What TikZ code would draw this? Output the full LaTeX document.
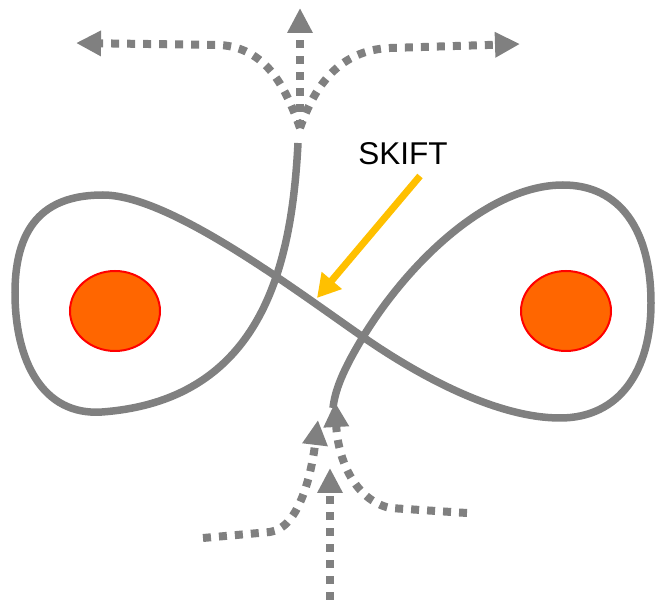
\documentclass[tikz,border=0pt]{standalone}
\usepackage{fontspec}
\setmainfont{Liberation Sans}
\usetikzlibrary{arrows.meta, shapes.geometric}

\definecolor{orbitgray}{HTML}{808080}
\definecolor{polefill}{HTML}{FF6600}
\definecolor{hintgold}{HTML}{FFC000}

\begin{document}
\begin{tikzpicture}[x=1pt, y=-1pt,
        orbit/.style={draw=orbitgray, line width=7.5pt},
        flow/.style={draw=orbitgray, line width=8pt,
                     dash pattern=on 8pt off 8pt,
                     -{Triangle[length=25pt,width=24pt]}},
        pole/.style={ellipse, draw=red, line width=2pt, fill=polefill,
                     minimum width=90pt, minimum height=80pt, inner sep=0pt},
        hint/.style={draw=hintgold, line width=7pt,
                     -{Triangle[length=23pt,width=25pt]}}]
      \useasboundingbox (0,0) rectangle (657,609);
      % poles
      \node[pole] (lpole) at (115,311) {};
      \node[pole] (rpole) at (566,311) {};
      % junctions
      \coordinate (topjoin) at (300,128);
      \coordinate (start) at (298,143);
      \coordinate (finish) at (333,408);
      % figure-eight orbit
      \draw[orbit] (start) .. controls (292,260) and (265,400) .. (102,412)
          .. controls (42,416) and (15,360) .. (15,293)
          .. controls (15,220) and (50,195) .. (103,195)
          .. controls (170,195) and (295,290) .. (363,337)
          .. controls (425,380) and (500,418) .. (560,418)
          .. controls (620,418) and (651,370) .. (651,303)
          .. controls (651,230) and (620,185) .. (563,185)
          .. controls (490,185) and (410,260) .. (363,337)
          .. controls (343,370) and (335,390) .. (finish);
      % outgoing flows
      \coordinate (outl) at (76,43);
      \coordinate (outu) at (300,8);
      \coordinate (outr) at (520,44);
      \draw[flow] (topjoin) .. controls (285,85) and (265,48) .. (220,45) -- (outl);
      \draw[flow] (topjoin) -- (outu);
      \draw[flow] (topjoin) .. controls (315,85) and (340,50) .. (390,48) -- (outr);
      % incoming flows
      \coordinate (inl) at (203,538);
      \coordinate (inm) at (330,600);
      \coordinate (inr) at (467,513);
      \draw[flow] (inl) -- (270,532) .. controls (300,528) and (312,470) .. (318,420);
      \draw[flow] (inm) -- (330,468);
      \draw[flow] (inr) -- (390,508) .. controls (355,500) and (338,460) .. (335,402);
      % label
      \node[font=\fontsize{31.5}{36}\selectfont] (skift) at (403,154) {SKIFT};
      \coordinate (skifttail) at (420,176);
      \coordinate (skifthead) at (317,298);
      \draw[hint] (skifttail) -- (skifthead);
    \end{tikzpicture}
\end{document}
